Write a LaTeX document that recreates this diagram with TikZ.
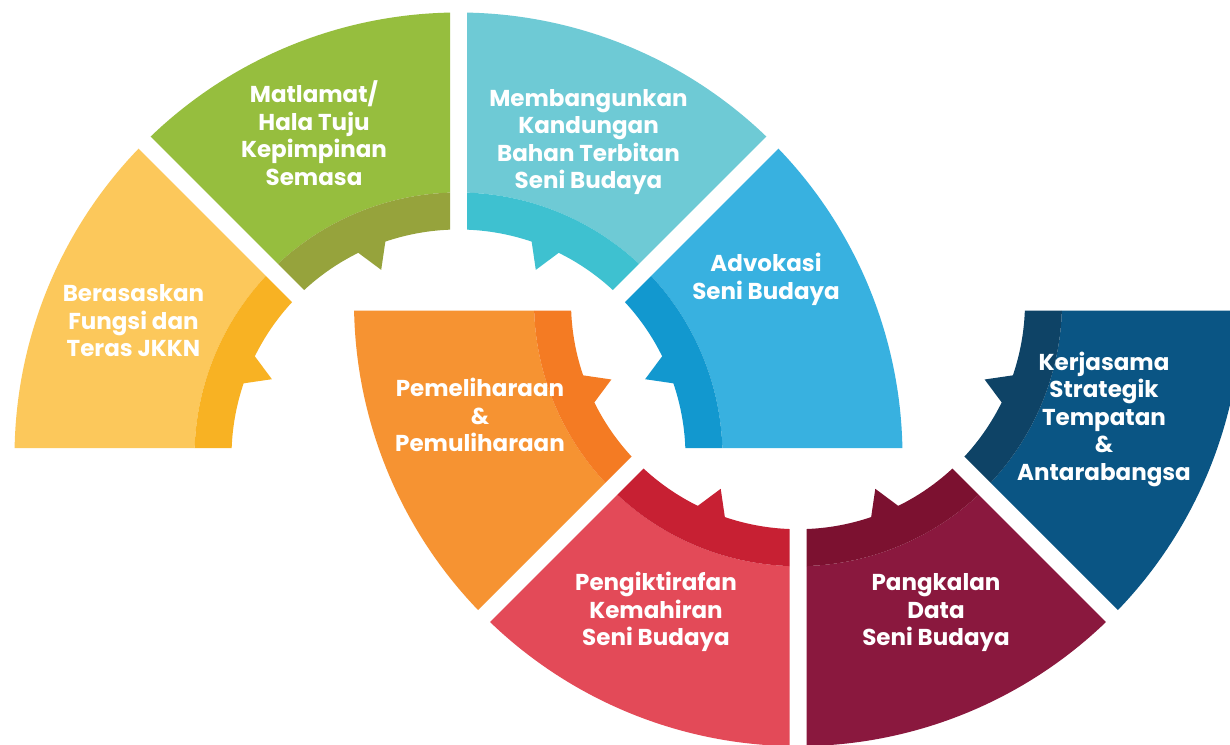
\documentclass[tikz,border=0pt]{standalone}
\usepackage{fontspec}
\setmainfont{Poppins}
\definecolor{ylL}{HTML}{FCC85B}
\definecolor{ylD}{HTML}{F8B223}
\definecolor{grL}{HTML}{96BE3E}
\definecolor{grD}{HTML}{96A33C}
\definecolor{tlL}{HTML}{6ECAD5}
\definecolor{tlD}{HTML}{3EC1D0}
\definecolor{blL}{HTML}{38B1E0}
\definecolor{blD}{HTML}{1298CF}
\definecolor{orL}{HTML}{F69332}
\definecolor{orD}{HTML}{F47B23}
\definecolor{rdL}{HTML}{E34A58}
\definecolor{rdD}{HTML}{C72033}
\definecolor{mrL}{HTML}{8A183E}
\definecolor{mrD}{HTML}{7C1130}
\definecolor{nvL}{HTML}{0A5584}
\definecolor{nvD}{HTML}{0E4366}
\tikzset{
  lbl/.style={text=white, font=\bfseries\fontsize{23}{27.5}\selectfont, align=center, inner sep=0pt, anchor=north},
}
% cx, cy, start angle, end angle, light colour, dark colour
\newcommand{\ringseg}[6]{%
  \begin{scope}[shift={(#1,#2)}]
    \pgfmathsetmacro\segmid{(#3+#4)/2}
    \fill[#5] ({#3+1.097}:444pt) arc[start angle={#3+1.097}, end angle={#4-1.097}, radius=444pt]
      -- ({#4-1.845}:264pt) arc[start angle={#4-1.845}, end angle={#3+1.845}, radius=264pt] -- cycle;
    \fill[#6] ({#3+1.845}:264pt) arc[start angle={#3+1.845}, end angle={#4-1.845}, radius=264pt]
      -- ({#4-2.146}:227pt) arc[start angle={#4-2.146}, end angle={\segmid+3.7}, radius=227pt]
      -- ({\segmid}:202pt) -- ({\segmid-3.7}:227pt)
      arc[start angle={\segmid-3.7}, end angle={#3+2.146}, radius=227pt] -- cycle;
  \end{scope}}
\begin{document}
\begin{tikzpicture}[x=1pt,y=1pt]
\useasboundingbox (0,0) rectangle (1230,744);
\fill[white] (0,0) rectangle (1230,744);
\clip (0,0) rectangle (1230,744);
% upper half ring
\ringseg{458.5}{287.5}{135}{180}{ylL}{ylD}
\ringseg{458.5}{287.5}{90}{135}{grL}{grD}
\ringseg{458.5}{287.5}{45}{90}{tlL}{tlD}
\ringseg{458.5}{287.5}{0}{45}{blL}{blD}
% lower half ring
\ringseg{798}{441.8}{180}{225}{orL}{orD}
\ringseg{798}{441.8}{225}{270}{rdL}{rdD}
\ringseg{798}{441.8}{270}{315}{mrL}{mrD}
\ringseg{798}{441.8}{315}{360}{nvL}{nvD}
% labels
\node[lbl] (t1) at (133.5,461.5) {\strut Berasaskan\\Fungsi dan\\Teras JKKN};
\node[lbl] (t2) at (314,663.2) {\strut Matlamat/\\Hala Tuju\\Kepimpinan\\Semasa};
\node[lbl] (t3) at (588.5,657.2) {\strut Membangunkan\\Kandungan\\Bahan Terbitan\\Seni Budaya};
\node[lbl] (t4) at (766,491.5) {\strut Advokasi\\Seni Budaya};
\node[lbl] (t5) at (480,366.5) {\strut Pemeliharaan\\\&\\Pemuliharaan};
\node[lbl] (t6) at (1104,393.2) {\strut Kerjasama\\Strategik\\Tempatan\\\&\\Antarabangsa};
\node[lbl] (t7) at (656,172.5) {\strut Pengiktirafan\\Kemahiran\\Seni Budaya};
\node[lbl] (t8) at (936,172.5) {\strut Pangkalan\\Data\\Seni Budaya};
\end{tikzpicture}
\end{document}
